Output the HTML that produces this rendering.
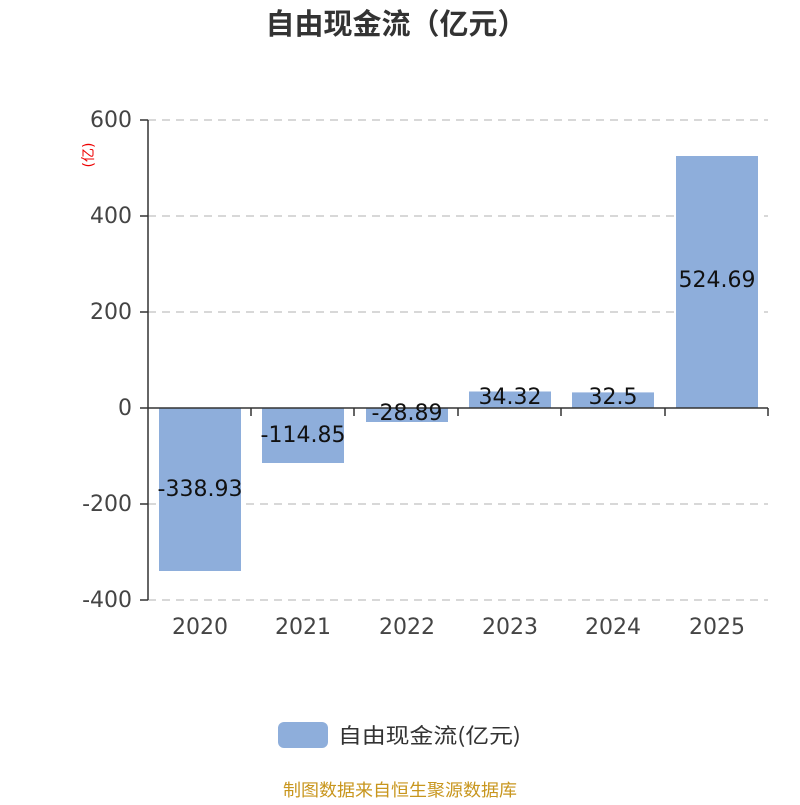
<!DOCTYPE html>
<html><head><meta charset="utf-8"><style>body{margin:0;background:#fff}</style></head><body>
<svg width="800" height="800" xmlns="http://www.w3.org/2000/svg" font-family="'DejaVu Sans','Noto Sans CJK SC',sans-serif">
<rect width="800" height="800" fill="#fff"/>
<text x="396" y="34" text-anchor="middle" font-size="29" font-weight="bold" fill="#333" font-family="'Noto Sans CJK SC',sans-serif">自由现金流（亿元）</text>
<g stroke="#ccc" stroke-dasharray="8,6" stroke-width="1.5">
<line x1="148" y1="120" x2="768" y2="120"/><line x1="148" y1="216" x2="768" y2="216"/>
<line x1="148" y1="312" x2="768" y2="312"/><line x1="148" y1="504" x2="768" y2="504"/>
<line x1="148" y1="600" x2="768" y2="600"/></g>
<g fill="#8eaedb">
<rect x="159" y="408" width="82" height="163"/>
<rect x="262" y="408" width="82" height="55"/>
<rect x="366" y="408" width="82" height="14"/>
<rect x="469" y="391.5" width="82" height="16.5"/>
<rect x="572" y="392.4" width="82" height="15.6"/>
<rect x="676" y="156" width="82" height="252"/>
</g>
<g stroke="#333" stroke-width="1.5">
<line x1="148" y1="120" x2="148" y2="600"/>
<line x1="148" y1="408" x2="768" y2="408"/>
<line x1="140" y1="120" x2="148" y2="120"/><line x1="140" y1="216" x2="148" y2="216"/>
<line x1="140" y1="312" x2="148" y2="312"/><line x1="140" y1="408" x2="148" y2="408"/>
<line x1="140" y1="504" x2="148" y2="504"/><line x1="140" y1="600" x2="148" y2="600"/>
<line x1="251" y1="408" x2="251" y2="416"/><line x1="354" y1="408" x2="354" y2="416"/>
<line x1="458" y1="408" x2="458" y2="416"/><line x1="561" y1="408" x2="561" y2="416"/>
<line x1="665" y1="408" x2="665" y2="416"/><line x1="768" y1="408" x2="768" y2="416"/>
</g>
<g font-size="22" fill="#444" text-anchor="end">
<text x="132" y="127">600</text><text x="132" y="223">400</text><text x="132" y="319">200</text>
<text x="132" y="415">0</text><text x="132" y="511">-200</text><text x="132" y="607">-400</text>
</g>
<text transform="translate(93,155) rotate(-90)" text-anchor="middle" font-size="14" fill="#e00">(亿)</text>
<g font-size="22" fill="#444" text-anchor="middle">
<text x="200" y="634">2020</text><text x="303" y="634">2021</text><text x="407" y="634">2022</text>
<text x="510" y="634">2023</text><text x="613" y="634">2024</text><text x="717" y="634">2025</text>
</g>
<g font-size="22" fill="#111" text-anchor="middle">
<text x="200" y="496">-338.93</text><text x="303" y="442">-114.85</text><text x="407" y="420">-28.89</text>
<text x="510" y="404">34.32</text><text x="613" y="404">32.5</text><text x="717" y="287">524.69</text>
</g>
<rect x="278" y="722" width="50" height="26" rx="6" fill="#8eaedb"/>
<text x="338" y="743" font-size="21" fill="#333" textLength="183" lengthAdjust="spacingAndGlyphs" font-family="'Noto Sans CJK SC',sans-serif">自由现金流(亿元)</text>
<text x="400" y="796" text-anchor="middle" font-size="17" fill="#c8961e" textLength="234" lengthAdjust="spacingAndGlyphs" font-family="'Noto Sans CJK SC',sans-serif">制图数据来自恒生聚源数据库</text>
</svg>
</body></html>
